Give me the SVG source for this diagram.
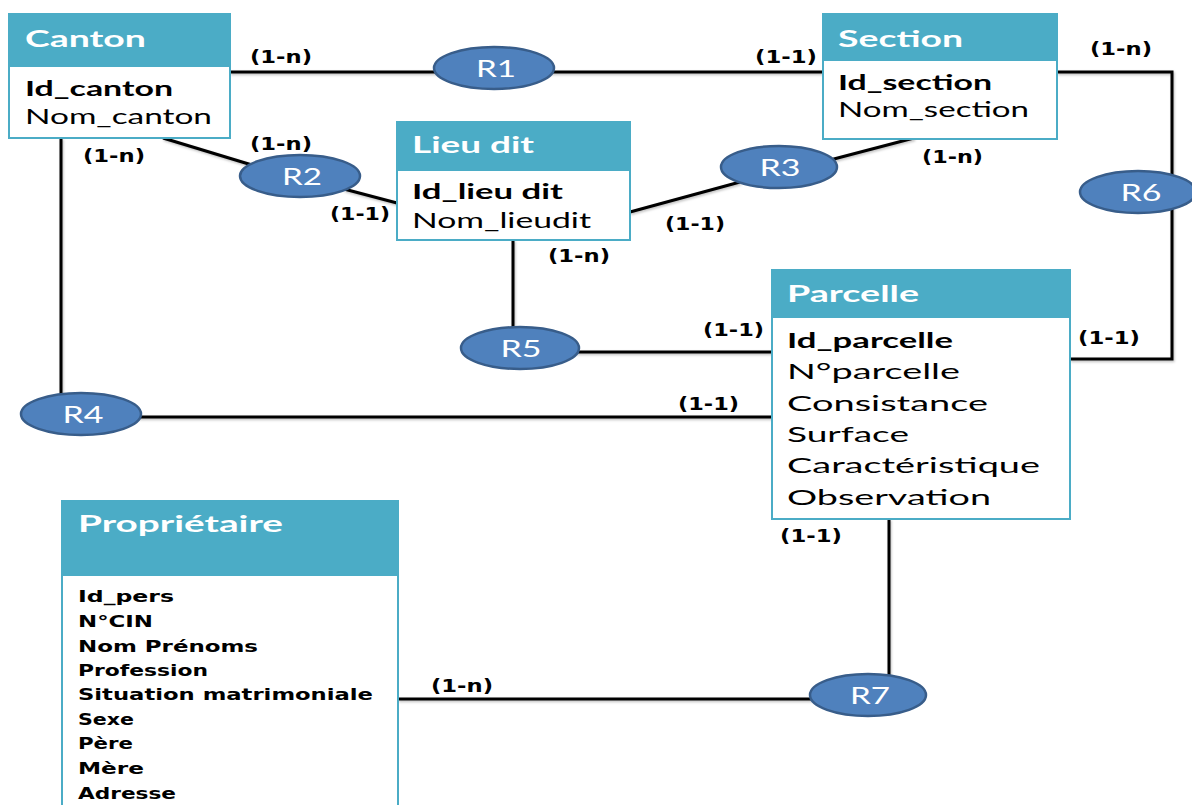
<svg xmlns="http://www.w3.org/2000/svg" width="1192" height="805" viewBox="0 0 1192 805">
  <style>
    .box { fill: #ffffff; stroke: #4bacc6; stroke-width: 2; }
    .head { fill: #4bacc6; }
    .title { font-family: Lato, "Open Sans", sans-serif; font-weight: bold; font-size: 23px; fill: #ffffff; }
    .key { font-family: Lato, "Open Sans", sans-serif; font-weight: bold; font-size: 21px; fill: #000000; }
    .attr { font-family: Lato, "Open Sans", sans-serif; font-size: 21px; fill: #000000; }
    .pattr { font-family: "DejaVu Sans", Verdana, sans-serif; font-weight: bold; font-size: 16px; fill: #000000; }
    .rel ellipse { fill: #4f81bd; stroke: #385d8a; stroke-width: 2.5; }
    .rel text { font-family: Lato, "Open Sans", sans-serif; font-size: 24px; fill: #ffffff; text-anchor: middle; }
    .links path { fill: none; stroke: #000000; stroke-width: 3; }
    .card { font-family: "DejaVu Sans", Verdana, sans-serif; font-weight: bold; font-size: 17px; fill: #000000; }
  </style>
  <defs>
    <filter id="lineShadow" x="-5%" y="-5%" width="110%" height="110%">
      <feDropShadow dx="1" dy="1.5" stdDeviation="0.8" flood-color="#000000" flood-opacity="0.25"/>
    </filter>
  </defs>

  <rect width="1192" height="805" fill="#ffffff"/>

  <!-- connectors -->
  <g id="connectors" class="links" filter="url(#lineShadow)">
    <path d="M230 72 H822"/>
    <path d="M1057 72 H1172 V359 H1070"/>
    <path d="M163 138 L252 165"/>
    <path d="M344 189 L397 203"/>
    <path d="M914 138 L830 160"/>
    <path d="M740 182 L630 212"/>
    <path d="M513 240 V330"/>
    <path d="M575 352 H772"/>
    <path d="M61 138 V396"/>
    <path d="M138 417 H772"/>
    <path d="M889 519 V677"/>
    <path d="M398 699 H812"/>
  </g>

  <!-- cardinalities -->
  <g id="cardinalities">
    <text class="card" x="250" y="63" textLength="62" lengthAdjust="spacingAndGlyphs">(1-n)</text>
    <text class="card" x="755" y="63" textLength="62" lengthAdjust="spacingAndGlyphs">(1-1)</text>
    <text class="card" x="1090" y="55" textLength="62" lengthAdjust="spacingAndGlyphs">(1-n)</text>
    <text class="card" x="83" y="162" textLength="62" lengthAdjust="spacingAndGlyphs">(1-n)</text>
    <text class="card" x="250" y="150" textLength="62" lengthAdjust="spacingAndGlyphs">(1-n)</text>
    <text class="card" x="330" y="220" textLength="60" lengthAdjust="spacingAndGlyphs">(1-1)</text>
    <text class="card" x="922" y="163" textLength="61" lengthAdjust="spacingAndGlyphs">(1-n)</text>
    <text class="card" x="665" y="230" textLength="60" lengthAdjust="spacingAndGlyphs">(1-1)</text>
    <text class="card" x="548" y="262" textLength="62" lengthAdjust="spacingAndGlyphs">(1-n)</text>
    <text class="card" x="703" y="336" textLength="61" lengthAdjust="spacingAndGlyphs">(1-1)</text>
    <text class="card" x="678" y="410" textLength="61" lengthAdjust="spacingAndGlyphs">(1-1)</text>
    <text class="card" x="1078" y="344" textLength="62" lengthAdjust="spacingAndGlyphs">(1-1)</text>
    <text class="card" x="780" y="542" textLength="62" lengthAdjust="spacingAndGlyphs">(1-1)</text>
    <text class="card" x="431" y="692" textLength="62" lengthAdjust="spacingAndGlyphs">(1-n)</text>
  </g>

  <!-- relationships -->
  <g id="R1" class="rel"><ellipse cx="494" cy="68" rx="60" ry="21"/><text x="496" y="77" textLength="40" lengthAdjust="spacingAndGlyphs">R1</text></g>
  <g id="R2" class="rel"><ellipse cx="300" cy="176" rx="60" ry="21"/><text x="302" y="185" textLength="40" lengthAdjust="spacingAndGlyphs">R2</text></g>
  <g id="R3" class="rel"><ellipse cx="779" cy="167" rx="58" ry="21"/><text x="780" y="176" textLength="41" lengthAdjust="spacingAndGlyphs">R3</text></g>
  <g id="R4" class="rel"><ellipse cx="81" cy="414" rx="60" ry="21"/><text x="83" y="423" textLength="41" lengthAdjust="spacingAndGlyphs">R4</text></g>
  <g id="R5" class="rel"><ellipse cx="520" cy="348" rx="59" ry="21"/><text x="521" y="357" textLength="41" lengthAdjust="spacingAndGlyphs">R5</text></g>
  <g id="R6" class="rel"><ellipse cx="1138" cy="192" rx="58" ry="21"/><text x="1141" y="201" textLength="41" lengthAdjust="spacingAndGlyphs">R6</text></g>
  <g id="R7" class="rel"><ellipse cx="868" cy="695" rx="58" ry="21"/><text x="870" y="704" textLength="40" lengthAdjust="spacingAndGlyphs">R7</text></g>

  <!-- entities -->
  <g id="canton">
    <rect class="box" x="9" y="14" width="221" height="124"/>
    <rect class="head" x="9" y="14" width="221" height="53"/>
    <text class="title" x="25" y="47" textLength="121" lengthAdjust="spacingAndGlyphs">Canton</text>
    <text class="key" x="25" y="96" textLength="148" lengthAdjust="spacingAndGlyphs">Id_canton</text>
    <text class="attr" x="25" y="124" textLength="187" lengthAdjust="spacingAndGlyphs">Nom_canton</text>
  </g>

  <g id="section">
    <rect class="box" x="823" y="14" width="234" height="125"/>
    <rect class="head" x="823" y="14" width="234" height="47"/>
    <text class="title" x="838" y="47" textLength="125" lengthAdjust="spacingAndGlyphs">Section</text>
    <text class="key" x="838" y="90" textLength="154" lengthAdjust="spacingAndGlyphs">Id_section</text>
    <text class="attr" x="838" y="117" textLength="191" lengthAdjust="spacingAndGlyphs">Nom_section</text>
  </g>

  <g id="lieu-dit">
    <rect class="box" x="397" y="122" width="233" height="118"/>
    <rect class="head" x="397" y="122" width="233" height="49"/>
    <text class="title" x="412" y="153" textLength="122" lengthAdjust="spacingAndGlyphs">Lieu dit</text>
    <text class="key" x="412" y="199" textLength="151" lengthAdjust="spacingAndGlyphs">Id_lieu dit</text>
    <text class="attr" x="412" y="228" textLength="179" lengthAdjust="spacingAndGlyphs">Nom_lieudit</text>
  </g>

  <g id="parcelle">
    <rect class="box" x="772" y="270" width="298" height="249"/>
    <rect class="head" x="772" y="270" width="298" height="48"/>
    <text class="title" x="787" y="302" textLength="132" lengthAdjust="spacingAndGlyphs">Parcelle</text>
    <text class="key" x="787" y="348" textLength="166" lengthAdjust="spacingAndGlyphs">Id_parcelle</text>
    <text class="attr" x="787" y="379" textLength="173" lengthAdjust="spacingAndGlyphs">N°parcelle</text>
    <text class="attr" x="787" y="411" textLength="201" lengthAdjust="spacingAndGlyphs">Consistance</text>
    <text class="attr" x="787" y="442" textLength="122" lengthAdjust="spacingAndGlyphs">Surface</text>
    <text class="attr" x="787" y="473" textLength="253" lengthAdjust="spacingAndGlyphs">Caractéristique</text>
    <text class="attr" x="787" y="505" textLength="204" lengthAdjust="spacingAndGlyphs">Observation</text>
  </g>

  <g id="proprietaire">
    <rect class="box" x="62" y="501" width="336" height="330"/>
    <rect class="head" x="62" y="501" width="336" height="75"/>
    <text class="title" x="78" y="532" textLength="205" lengthAdjust="spacingAndGlyphs">Propriétaire</text>
    <text class="pattr" x="78" y="602" textLength="96" lengthAdjust="spacingAndGlyphs">Id_pers</text>
    <text class="pattr" x="78" y="627" textLength="75" lengthAdjust="spacingAndGlyphs">N°CIN</text>
    <text class="pattr" x="78" y="652" textLength="180" lengthAdjust="spacingAndGlyphs">Nom Prénoms</text>
    <text class="pattr" x="78" y="676" textLength="130" lengthAdjust="spacingAndGlyphs">Profession</text>
    <text class="pattr" x="78" y="700" textLength="295" lengthAdjust="spacingAndGlyphs">Situation matrimoniale</text>
    <text class="pattr" x="78" y="725" textLength="56" lengthAdjust="spacingAndGlyphs">Sexe</text>
    <text class="pattr" x="78" y="749" textLength="55" lengthAdjust="spacingAndGlyphs">Père</text>
    <text class="pattr" x="78" y="774" textLength="66" lengthAdjust="spacingAndGlyphs">Mère</text>
    <text class="pattr" x="78" y="799" textLength="98" lengthAdjust="spacingAndGlyphs">Adresse</text>
  </g>
</svg>
